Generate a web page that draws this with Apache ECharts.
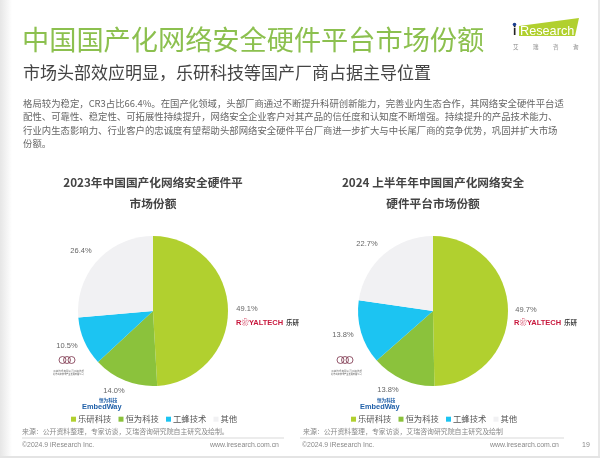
<!DOCTYPE html>
<html>
<head>
<meta charset="utf-8">
<script src="https://cdn.jsdelivr.net/npm/echarts@6/dist/echarts.min.js"></script>
<style>
html,body{margin:0;padding:0;background:#fff}
#main{width:600px;height:458px}
</style>
</head>
<body>
<div id="main"></div>
<script>
var categories = ['乐研科技', '恒为科技', '工蜂技术', '其他']
var values2023 = [49.1, 14.0, 10.5, 26.4]
var values2024 = [49.7, 13.8, 13.8, 22.7]
var colors = ['#b1d02f', '#8bc23c', '#1cc4f2', '#f1f1f3']
var bodyLines = [
  '格局较为稳定，CR3占比66.4%。在国产化领域，头部厂商通过不断提升科研创新能力，完善业内生态合作，其网络安全硬件平台适',
  '配性、可靠性、稳定性、可拓展性持续提升，网络安全企业客户对其产品的信任度和认知度不断增强。持续提升的产品技术能力、',
  '行业内生态影响力、行业客户的忠诚度有望帮助头部网络安全硬件平台厂商进一步扩大与中长尾厂商的竞争优势，巩固并扩大市场',
  '份额。'
]
var font = '"Noto Sans CJK SC", sans-serif'
var latin = '"Liberation Sans", "Noto Sans CJK SC", sans-serif'

function txt(x, y, text, size, color, extra) {
  return {
    type: 'text', x: x, y: y, silent: true,
    style: Object.assign({
      text: text, fontSize: size, fill: color, fontFamily: font,
      verticalAlign: 'middle'
    }, extra || {})
  }
}

function pieSeries(center, values, offsets) {
  return {
    type: 'pie',
    center: center,
    radius: [0, 75],
    startAngle: 90,
    clockwise: true,
    silent: true,
    label: {
      position: 'outside',
      formatter: function (p) { return p.value.toFixed(1) + '%' },
      fontSize: 7.5,
      color: '#666',
      fontFamily: latin
    },
    labelLine: { show: false },
    labelLayout: function (p) {
      var o = offsets[p.dataIndex]
      return { x: o[0], y: o[1], align: 'center', verticalAlign: 'middle' }
    },
    data: values.map(function (v, i) {
      return { name: categories[i], value: v, itemStyle: { color: colors[i] } }
    })
  }
}

function legendAt(left, idx) {
  return {
    left: left, top: 410, seriesIndex: idx, data: categories,
    icon: 'rect', itemWidth: 5, itemHeight: 5, itemGap: 7,
    textStyle: { fontSize: 8.4, color: '#555', fontFamily: font, padding: [0, 0, 0, -3] }
  }
}

// 厂商 logo 用文字和小圆近似
function vendorMarks(dx) {
  var red = '#c8173c'
  var ring = { fill: 'none', stroke: '#7a3048', lineWidth: 0.8 }
  return [
    txt(236 + dx, 323, 'R❀YALTECH', 7.5, red, { fontWeight: 'bold', fontFamily: latin }),
    txt(286 + dx, 323, '乐研', 6.5, '#444', { fontWeight: 'bold' }),
    txt(99 + dx, 400, '恒为科技', 4.6, '#1f5fa8', { fontWeight: 'bold' }),
    txt(82 + dx, 406.5, 'EmbedWay', 7.4, '#1f5fa8', { fontWeight: 'bold', fontFamily: latin }),
    { type: 'circle', silent: true, shape: { cx: 62.5 + dx, cy: 360, r: 3.5 }, style: ring },
    { type: 'circle', silent: true, shape: { cx: 67 + dx, cy: 360, r: 3.5 }, style: ring },
    { type: 'circle', silent: true, shape: { cx: 71.5 + dx, cy: 360, r: 3.5 }, style: ring },
    txt(53 + dx, 371, '工蜂技术有限公司工蜂技术', 2.6, '#777'),
    txt(53 + dx, 374, '北京工蜂技术产业发展有限公司', 2.2, '#555')
  ]
}

var graphics = [
  // 页面边缘的灰色阴影
  { type: 'rect', silent: true, z: -1, shape: { x: 0, y: 0, width: 12, height: 458 },
    style: { fill: new echarts.graphic.LinearGradient(0, 0, 1, 0, [{ offset: 0, color: '#e6e6e6' }, { offset: 1, color: '#ffffff' }]) } },
  { type: 'rect', silent: true, z: -1, shape: { x: 598, y: 0, width: 2, height: 458 }, style: { fill: '#e8e8e8' } },
  { type: 'rect', silent: true, z: -1, shape: { x: 0, y: 456, width: 600, height: 2 }, style: { fill: '#e4e4e4' } },

  txt(22, 40, '中国国产化网络安全硬件平台市场份额', 27.2, '#8cc04f'),
  txt(23, 73, '市场头部效应明显，乐研科技等国产厂商占据主导位置', 17, '#444'),
  txt(153, 183, '2023年中国国产化网络安全硬件平', 11.7, '#444', { fontWeight: 'bold', align: 'center' }),
  txt(153, 204, '市场份额', 11.7, '#444', { fontWeight: 'bold', align: 'center' }),
  txt(433, 183, '2024 上半年年中国国产化网络安全', 11.7, '#444', { fontWeight: 'bold', align: 'center' }),
  txt(433, 204, '硬件平台市场份额', 11.7, '#444', { fontWeight: 'bold', align: 'center' }),

  // iResearch logo
  { type: 'polygon', silent: true, shape: { points: [[519, 26], [579, 18], [575, 36], [519, 36]] }, style: { fill: '#b1d02f' } },
  { type: 'circle', silent: true, shape: { cx: 514.5, cy: 24.5, r: 1.8 }, style: { fill: '#1c3f8f' } },
  txt(513, 31.5, 'i', 12, '#222', { fontWeight: 'bold', fontFamily: latin }),
  txt(520, 31, 'Research', 12.7, '#fff', { fontFamily: latin }),
  txt(513, 47, '艾', 5.5, '#888'), txt(533, 47, '瑞', 5.5, '#888'),
  txt(553, 47, '咨', 5.5, '#888'), txt(573, 47, '询', 5.5, '#888'),

  txt(22, 431, '来源：公开资料整理，专家访谈，艾瑞咨询研究院自主研究及绘制。', 6.9, '#888'),
  txt(303, 431, '来源：公开资料整理，专家访谈，艾瑞咨询研究院自主研究及绘制', 6.9, '#888'),
  { type: 'line', silent: true, shape: { x1: 22, y1: 438, x2: 284, y2: 438 }, style: { stroke: '#c8c8c8', lineWidth: 0.7 } },
  { type: 'line', silent: true, shape: { x1: 300, y1: 438, x2: 564, y2: 438 }, style: { stroke: '#c8c8c8', lineWidth: 0.7 } },
  txt(22, 445, '©2024.9 iResearch Inc.', 6.9, '#888', { fontFamily: latin }),
  txt(302, 445, '©2024.9 iResearch Inc.', 6.9, '#888', { fontFamily: latin }),
  txt(210, 445, 'www.iresearch.com.cn', 6.9, '#888', { fontFamily: latin }),
  txt(490, 445, 'www.iresearch.com.cn', 6.9, '#888', { fontFamily: latin }),
  txt(582, 445, '19', 7, '#888', { fontFamily: latin })
]

bodyLines.forEach(function (line, i) {
  graphics.push(txt(23, 103 + i * 13.6, line, 9.38, '#666'))
})
graphics = graphics.concat(vendorMarks(0), vendorMarks(278))

var chart = echarts.init(document.getElementById('main'), null, { renderer: 'canvas' })
chart.setOption({
  animation: false,
  backgroundColor: '#fff',
  legend: [legendAt(66, 0), legendAt(346, 1)],
  series: [
    pieSeries([153, 311], values2023, [[247, 309], [114, 391], [67, 346], [81, 251]]),
    pieSeries([433, 311], values2024, [[526, 310], [388, 390], [343, 335], [367, 244]])
  ],
  graphic: { elements: graphics }
})
</script>
</body>
</html>
